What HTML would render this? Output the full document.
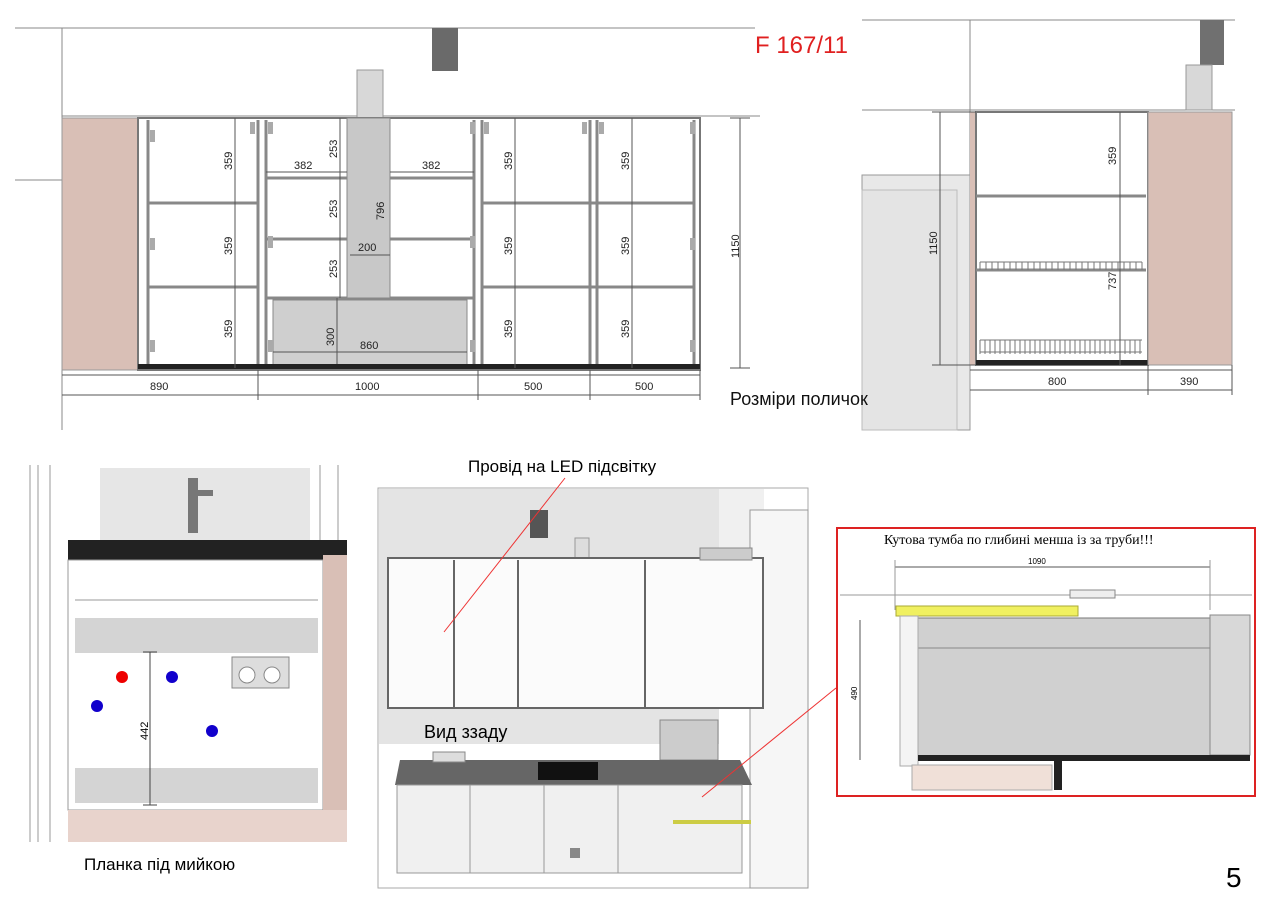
<!DOCTYPE html>
<html><head><meta charset="utf-8"><style>
html,body{margin:0;padding:0;background:#fff;}
svg{display:block;font-family:"Liberation Sans",sans-serif;}
</style></head><body>
<svg width="1280" height="913" viewBox="0 0 1280 913" xmlns="http://www.w3.org/2000/svg">
<rect width="1280" height="913" fill="#fff"/>
<!-- TOP LEFT -->
<g stroke="#888" stroke-width="1" fill="none">
<line x1="15" y1="28" x2="755" y2="28"/>
<line x1="62" y1="28" x2="62" y2="430"/>
<line x1="62" y1="116" x2="760" y2="116"/>
<line x1="15" y1="180" x2="62" y2="180"/>
</g>
<rect x="432" y="28" width="26" height="43" fill="#6a6a6a"/>
<rect x="357" y="70" width="26" height="48" fill="#d8d8d8" stroke="#999"/>
<rect x="62" y="118" width="76" height="252" fill="#d9bfb6" stroke="#999"/>
<rect x="138" y="118" width="562" height="252" fill="#fff" stroke="#777" stroke-width="2"/>
<g stroke="#888" stroke-width="3" fill="none">
<line x1="148" y1="120" x2="148" y2="368"/>
<line x1="258" y1="120" x2="258" y2="368"/>
<line x1="266" y1="120" x2="266" y2="368"/>
<line x1="474" y1="120" x2="474" y2="368"/>
<line x1="482" y1="120" x2="482" y2="368"/>
<line x1="590" y1="120" x2="590" y2="368"/>
<line x1="597" y1="120" x2="597" y2="368"/>
<line x1="694" y1="120" x2="694" y2="368"/>
<line x1="148" y1="203" x2="258" y2="203"/>
<line x1="148" y1="287" x2="258" y2="287"/>
<line x1="482" y1="203" x2="694" y2="203"/>
<line x1="482" y1="287" x2="694" y2="287"/>
<line x1="266" y1="178" x2="347" y2="178"/>
<line x1="390" y1="178" x2="474" y2="178"/>
<line x1="266" y1="239" x2="347" y2="239"/>
<line x1="390" y1="239" x2="474" y2="239"/>
<line x1="266" y1="298" x2="474" y2="298"/>
</g>
<rect x="347" y="118" width="43" height="180" fill="#c8c8c8" stroke="#888"/>
<rect x="273" y="300" width="194" height="66" fill="#cfcfcf" stroke="#888"/>
<rect x="138" y="364" width="562" height="5" fill="#222"/>
<g fill="#aaa"><rect x="150" y="130" width="5" height="12"/><rect x="150" y="238" width="5" height="12"/><rect x="150" y="340" width="5" height="12"/><rect x="250" y="122" width="5" height="12"/><rect x="268" y="122" width="5" height="12"/><rect x="470" y="122" width="5" height="12"/><rect x="484" y="122" width="5" height="12"/><rect x="582" y="122" width="5" height="12"/><rect x="599" y="122" width="5" height="12"/><rect x="690" y="122" width="5" height="12"/><rect x="690" y="238" width="5" height="12"/><rect x="690" y="340" width="5" height="12"/><rect x="268" y="236" width="5" height="12"/><rect x="470" y="236" width="5" height="12"/><rect x="268" y="340" width="5" height="12"/><rect x="470" y="340" width="5" height="12"/></g>
<g stroke="#555" stroke-width="1">
<line x1="235" y1="118" x2="235" y2="368"/><line x1="515" y1="118" x2="515" y2="368"/><line x1="632" y1="118" x2="632" y2="368"/>
<line x1="340" y1="118" x2="340" y2="298"/><line x1="337" y1="298" x2="337" y2="364"/>
<line x1="266" y1="172" x2="347" y2="172"/><line x1="390" y1="172" x2="474" y2="172"/>
<line x1="350" y1="255" x2="390" y2="255"/><line x1="273" y1="352" x2="467" y2="352"/>
<line x1="740" y1="118" x2="740" y2="368"/><line x1="730" y1="118" x2="750" y2="118"/><line x1="730" y1="368" x2="750" y2="368"/>
<line x1="62" y1="375" x2="700" y2="375"/><line x1="62" y1="395" x2="700" y2="395"/>
<line x1="258" y1="370" x2="258" y2="400"/><line x1="478" y1="370" x2="478" y2="400"/><line x1="590" y1="370" x2="590" y2="400"/><line x1="700" y1="370" x2="700" y2="400"/>
</g>
<g font-size="11" fill="#222">
<text transform="translate(232,170) rotate(-90)">359</text><text transform="translate(232,255) rotate(-90)">359</text><text transform="translate(232,338) rotate(-90)">359</text>
<text transform="translate(512,170) rotate(-90)">359</text><text transform="translate(512,255) rotate(-90)">359</text><text transform="translate(512,338) rotate(-90)">359</text>
<text transform="translate(629,170) rotate(-90)">359</text><text transform="translate(629,255) rotate(-90)">359</text><text transform="translate(629,338) rotate(-90)">359</text>
<text transform="translate(337,158) rotate(-90)">253</text><text transform="translate(337,218) rotate(-90)">253</text><text transform="translate(337,278) rotate(-90)">253</text>
<text transform="translate(384,220) rotate(-90)">796</text><text transform="translate(334,346) rotate(-90)">300</text>
<text x="294" y="169">382</text><text x="422" y="169">382</text><text x="358" y="251">200</text><text x="360" y="349">860</text>
<text transform="translate(739,258) rotate(-90)">1150</text>
<text x="150" y="390">890</text><text x="355" y="390">1000</text><text x="524" y="390">500</text><text x="635" y="390">500</text>
</g>
<text x="755" y="53" font-size="24" fill="#e02020">F 167/11</text>
<!-- TOP RIGHT -->
<g stroke="#888" fill="none"><line x1="862" y1="20" x2="1235" y2="20"/><line x1="970" y1="20" x2="970" y2="430"/><line x1="862" y1="110" x2="1235" y2="110"/></g>
<rect x="1200" y="20" width="24" height="45" fill="#707070"/>
<rect x="1186" y="65" width="26" height="45" fill="#d8d8d8" stroke="#999"/>
<rect x="862" y="175" width="108" height="255" fill="#e8e8e8" stroke="#999"/>
<rect x="862" y="190" width="95" height="240" fill="#e4e4e4" stroke="#bbb"/>
<rect x="970" y="112" width="8" height="253" fill="#d9bfb6"/>
<rect x="976" y="112" width="172" height="253" fill="#fff" stroke="#777" stroke-width="2"/>
<g stroke="#888" stroke-width="3"><line x1="976" y1="196" x2="1146" y2="196"/><line x1="976" y1="270" x2="1146" y2="270"/></g>
<g stroke="#777" stroke-width="1"><line x1="980" y1="262" x2="1142" y2="262"/><line x1="980" y1="340" x2="1142" y2="340"/><line x1="980" y1="352" x2="1142" y2="352"/></g>
<g stroke="#777"><path d="M980 262 v8 M986 262 v8 M992 262 v8 M998 262 v8 M1004 262 v8 M1010 262 v8 M1016 262 v8 M1022 262 v8 M1028 262 v8 M1034 262 v8 M1040 262 v8 M1046 262 v8 M1052 262 v8 M1058 262 v8 M1064 262 v8 M1070 262 v8 M1076 262 v8 M1082 262 v8 M1088 262 v8 M1094 262 v8 M1100 262 v8 M1106 262 v8 M1112 262 v8 M1118 262 v8 M1124 262 v8 M1130 262 v8 M1136 262 v8 M1142 262 v8"/>
<path d="M980 340 v14 M985 340 v14 M990 340 v14 M995 340 v14 M1000 340 v14 M1005 340 v14 M1010 340 v14 M1015 340 v14 M1020 340 v14 M1025 340 v14 M1030 340 v14 M1035 340 v14 M1040 340 v14 M1045 340 v14 M1050 340 v14 M1055 340 v14 M1060 340 v14 M1065 340 v14 M1070 340 v14 M1075 340 v14 M1080 340 v14 M1085 340 v14 M1090 340 v14 M1095 340 v14 M1100 340 v14 M1105 340 v14 M1110 340 v14 M1115 340 v14 M1120 340 v14 M1125 340 v14 M1130 340 v14 M1135 340 v14 M1140 340 v14"/></g>
<rect x="976" y="360" width="172" height="5" fill="#222"/>
<rect x="1148" y="112" width="84" height="253" fill="#d9bfb6" stroke="#999"/>
<g stroke="#555"><line x1="1120" y1="112" x2="1120" y2="365"/><line x1="940" y1="112" x2="940" y2="365"/><line x1="932" y1="112" x2="976" y2="112"/><line x1="932" y1="365" x2="976" y2="365"/>
<line x1="970" y1="370" x2="1232" y2="370"/><line x1="970" y1="390" x2="1232" y2="390"/><line x1="1148" y1="365" x2="1148" y2="395"/><line x1="1232" y1="365" x2="1232" y2="395"/></g>
<g font-size="11" fill="#222"><text transform="translate(1116,165) rotate(-90)">359</text><text transform="translate(1116,290) rotate(-90)">737</text><text transform="translate(937,255) rotate(-90)">1150</text>
<text x="1048" y="385">800</text><text x="1180" y="385">390</text></g>
<text x="730" y="405" font-size="18" fill="#111">Розміри поличок</text>
<!-- BOTTOM LEFT -->
<g stroke="#999" fill="none"><line x1="30" y1="465" x2="30" y2="842"/><line x1="38" y1="465" x2="38" y2="842"/><line x1="50" y1="465" x2="50" y2="842"/><line x1="320" y1="465" x2="320" y2="545"/><line x1="338" y1="465" x2="338" y2="545"/></g>
<rect x="100" y="468" width="210" height="72" fill="#e6e6e6"/>
<rect x="188" y="478" width="10" height="55" fill="#777"/><rect x="198" y="490" width="15" height="6" fill="#777"/>
<rect x="68" y="540" width="279" height="20" fill="#222"/>
<rect x="68" y="560" width="255" height="250" fill="#fff" stroke="#999"/>
<rect x="323" y="555" width="24" height="255" fill="#d9bfb6"/>
<rect x="68" y="810" width="279" height="32" fill="#e8d3cc"/>
<rect x="75" y="618" width="243" height="35" fill="#d4d4d4"/>
<rect x="75" y="768" width="243" height="35" fill="#d4d4d4"/>
<line x1="75" y1="600" x2="318" y2="600" stroke="#999"/>
<rect x="232" y="657" width="57" height="31" fill="#ddd" stroke="#888"/>
<circle cx="247" cy="675" r="8" fill="#fff" stroke="#888"/><circle cx="272" cy="675" r="8" fill="#fff" stroke="#888"/>
<circle cx="122" cy="677" r="6" fill="#e00"/><circle cx="172" cy="677" r="6" fill="#10c"/><circle cx="97" cy="706" r="6" fill="#10c"/><circle cx="212" cy="731" r="6" fill="#10c"/>
<g stroke="#444"><line x1="150" y1="652" x2="150" y2="805"/><line x1="143" y1="652" x2="157" y2="652"/><line x1="143" y1="805" x2="157" y2="805"/></g>
<text transform="translate(148,740) rotate(-90)" font-size="11">442</text>
<text x="84" y="870" font-size="17">Планка під мийкою</text>
<!-- BOTTOM MIDDLE -->
<rect x="378" y="488" width="430" height="400" fill="#fff" stroke="#aaa"/>
<rect x="379" y="489" width="340" height="255" fill="#e4e4e4"/>
<rect x="719" y="489" width="45" height="220" fill="#f0f0f0"/>
<polygon points="750,510 808,510 808,888 750,888" fill="#f6f6f6" stroke="#999"/>
<rect x="530" y="510" width="18" height="28" fill="#555"/>
<rect x="575" y="538" width="14" height="24" fill="#ddd" stroke="#999"/>
<rect x="388" y="558" width="375" height="150" fill="#fbfbfb" stroke="#666" stroke-width="2"/>
<g stroke="#666" stroke-width="2"><line x1="454" y1="560" x2="454" y2="708"/><line x1="518" y1="560" x2="518" y2="708"/><line x1="645" y1="560" x2="645" y2="708"/></g>
<rect x="700" y="548" width="52" height="12" fill="#ccc" stroke="#888"/>
<text x="424" y="738" font-size="18">Вид ззаду</text>
<rect x="660" y="720" width="58" height="40" fill="#ccc" stroke="#888"/>
<polygon points="400,760 740,760 752,785 395,785" fill="#666"/>
<rect x="538" y="762" width="60" height="18" fill="#111"/>
<rect x="433" y="752" width="32" height="10" fill="#ddd" stroke="#888"/>
<rect x="397" y="785" width="345" height="88" fill="#f0f0f0" stroke="#999"/>
<g stroke="#999"><line x1="470" y1="785" x2="470" y2="873"/><line x1="544" y1="785" x2="544" y2="873"/><line x1="618" y1="785" x2="618" y2="873"/></g>
<rect x="673" y="820" width="78" height="4" fill="#cc4"/>
<rect x="570" y="848" width="10" height="10" fill="#888"/>
<g stroke="#e33" stroke-width="1"><line x1="565" y1="478" x2="444" y2="632"/><line x1="836" y1="688" x2="702" y2="797"/></g>
<text x="468" y="472" font-size="17">Провід на LED підсвітку</text>
<!-- BOTTOM RIGHT -->
<rect x="837" y="528" width="418" height="268" fill="#fff" stroke="#d22" stroke-width="2"/>
<text x="884" y="544" font-size="14" font-family="Liberation Serif, serif">Кутова тумба по глибині менша із за труби!!!</text>
<line x1="840" y1="595" x2="1252" y2="595" stroke="#999"/>
<line x1="895" y1="567" x2="1210" y2="567" stroke="#555"/><text x="1028" y="564" font-size="8">1090</text>
<line x1="895" y1="560" x2="895" y2="610" stroke="#999"/><line x1="1210" y1="560" x2="1210" y2="610" stroke="#999"/>
<rect x="896" y="606" width="182" height="10" fill="#f0f060" stroke="#aa3"/>
<rect x="1070" y="590" width="45" height="8" fill="#eee" stroke="#888"/>
<rect x="918" y="618" width="292" height="138" fill="#d0d0d0" stroke="#777"/>
<line x1="918" y1="648" x2="1210" y2="648" stroke="#888"/>
<rect x="1210" y="615" width="40" height="140" fill="#d8d8d8" stroke="#888"/>
<line x1="860" y1="620" x2="860" y2="760" stroke="#555"/><text transform="translate(857,700) rotate(-90)" font-size="8">490</text>
<rect x="900" y="616" width="18" height="150" fill="#f4f4f4" stroke="#aaa"/>
<rect x="918" y="755" width="332" height="6" fill="#222"/>
<rect x="1054" y="760" width="8" height="30" fill="#222"/>
<rect x="912" y="765" width="140" height="25" fill="#f0e0d8" stroke="#aaa"/>
<text x="1226" y="887" font-size="28">5</text>
</svg>
</body></html>
